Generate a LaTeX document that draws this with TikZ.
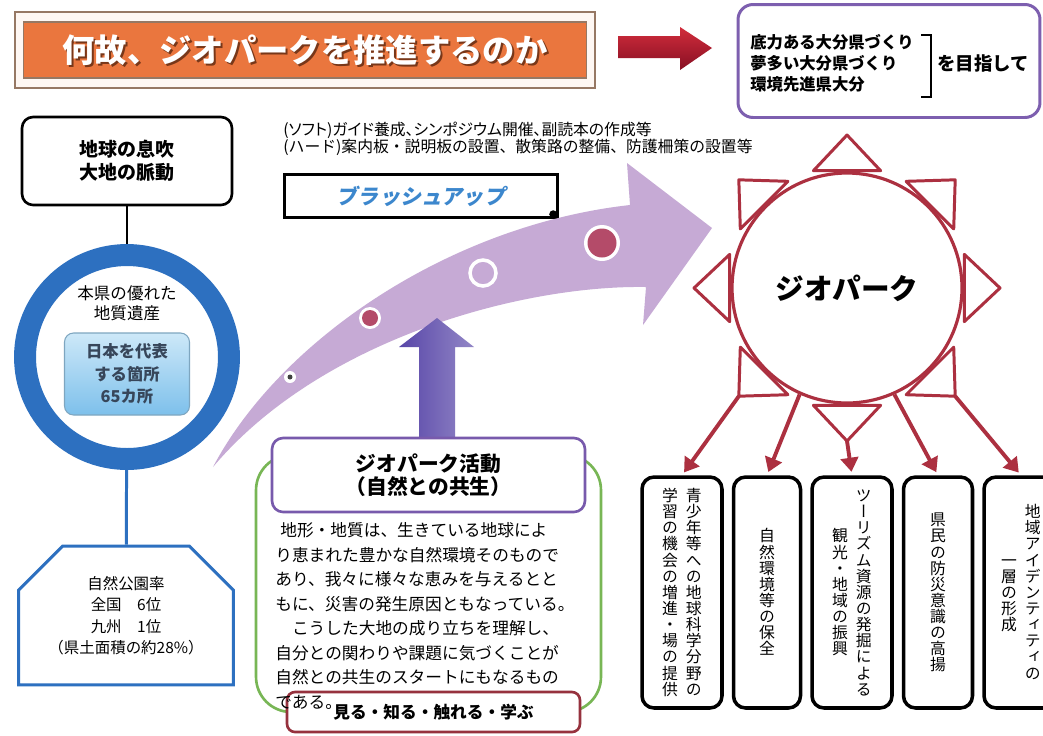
\documentclass[tikz,border=0pt]{standalone}
\usepackage{fontspec}
\setmainfont{Noto Sans CJK JP}
\newfontfamily\tatefont[RawFeature=+vert]{Noto Sans CJK JP}
\newfontfamily\brushfont[FakeSlant=0.2]{Noto Sans CJK JP}
\usetikzlibrary{positioning,calc,arrows.meta,shapes.misc}

\definecolor{titleorange}{RGB}{234,118,62}
\definecolor{titleline}{RGB}{150,120,100}
\definecolor{titleshade}{RGB}{120,55,25}
\definecolor{goalred}{RGB}{210,45,60}
\definecolor{goaldark}{RGB}{135,15,35}
\definecolor{goalpurple}{RGB}{125,95,175}
\definecolor{ringblue}{RGB}{45,112,192}
\definecolor{siteblue}{RGB}{205,232,248}
\definecolor{sitedeep}{RGB}{125,192,235}
\definecolor{sitetext}{RGB}{55,70,90}
\definecolor{brushblue}{RGB}{60,135,205}
\definecolor{lavender}{RGB}{198,170,213}
\definecolor{dotred}{RGB}{180,75,105}
\definecolor{uppurple}{RGB}{88,70,168}
\definecolor{actpurple}{RGB}{120,90,172}
\definecolor{lifegreen}{RGB}{120,182,85}
\definecolor{learnred}{RGB}{150,50,62}
\definecolor{geored}{RGB}{172,48,64}

\makeatletter
\newcommand\tatecol[1]{\vbox{\offinterlineskip\@tfor\tate@c:=#1\do{\setbox0\hbox to1em{\hss\tate@c\hss}\ht0=.88em\dp0=.12em\box0\kern.02em}}}
\newcommand\tatepair[2]{\hbox{$\vcenter{\tatecol{#2}}$\hskip.5em$\vcenter{\tatecol{#1}}$}}
\makeatother

\begin{document}
\begin{tikzpicture}[x=0.02cm, y=-0.02cm,
  titlebox/.style={rectangle, fill=titleorange, draw=titleline, line width=0.6pt, minimum width=11.28cm, minimum height=1.12cm},
  titleletters/.style={font=\bfseries\fontsize{18.4}{20}\selectfont, inner sep=0pt},
  goalbox/.style={rectangle, rounded corners=0.3cm, draw=goalpurple, line width=1.7pt, fill=white, minimum width=6.04cm, minimum height=2.26cm},
  goaltext/.style={font=\bfseries\fontsize{9.3}{12}\selectfont, align=left, inner sep=0pt},
  notetext/.style={font=\fontsize{9}{9.4}\selectfont, align=left, inner sep=0pt},
  brushbox/.style={rectangle, draw=black, line width=2pt, fill=white, minimum width=5.46cm, minimum height=0.86cm, text=brushblue, font=\brushfont\bfseries\fontsize{12}{14}\selectfont},
  breathbox/.style={rectangle, rounded corners=0.22cm, draw=black, line width=1.5pt, fill=white, minimum width=4.2cm, minimum height=1.76cm, align=center, font=\bfseries\fontsize{10.8}{13}\selectfont},
  ringnode/.style={circle, draw=ringblue, line width=12.5pt, minimum size=4.08cm, inner sep=0pt},
  heritagetext/.style={align=center, font=\fontsize{9.4}{11.5}\selectfont},
  sitebox/.style={rectangle, rounded corners=0.18cm, draw=sitedeep!60!gray, line width=0.6pt, top color=siteblue, bottom color=sitedeep, minimum width=2.5cm, minimum height=1.64cm, align=center, text=sitetext, font=\bfseries\fontsize{9.3}{12.8}\selectfont},
  parkbox/.style={chamfered rectangle, chamfered rectangle corners={north west,north east}, chamfered rectangle xsep=0.4cm, chamfered rectangle ysep=0.48cm, draw=ringblue, line width=1.7pt, fill=white, minimum width=4.3cm, minimum height=2.7cm, align=center, font=\fontsize{8.8}{12.2}\selectfont},
  lifebox/.style={rectangle, rounded corners=0.7cm, draw=lifegreen, line width=1.5pt, minimum width=6.9cm, minimum height=5.14cm},
  actbox/.style={rectangle, rounded corners=0.22cm, draw=actpurple, line width=1.5pt, fill=white, minimum width=6.26cm, minimum height=1.48cm, align=center, font=\bfseries\fontsize{11.8}{13}\selectfont},
  learnbox/.style={rectangle, rounded corners=0.16cm, draw=learnred, line width=1.5pt, fill=white, minimum width=5.86cm, minimum height=0.8cm, font=\bfseries\fontsize{9.5}{11}\selectfont},
  storytext/.style={align=left, inner sep=0pt, font=\fontsize{9.5}{14}\selectfont},
  geonode/.style={circle, draw=geored, line width=1.8pt, minimum size=4.6cm, inner sep=0pt, font=\bfseries\fontsize{16.3}{18}\selectfont},
  geoline/.style={draw=geored, line width=1.7pt, line join=round},
  geoarrow/.style={draw=geored, line width=2.2pt, -{Triangle[length=8pt,width=10pt]}, shorten >=2pt},
  tatebox/.style={rectangle, rounded corners=0.24cm, draw=black, line width=2pt, fill=white, minimum height=4.62cm, inner sep=0pt, font=\tatefont\fontsize{9}{10}\selectfont},
  blackline/.style={draw=black, line width=1.4pt},
  blueline/.style={draw=ringblue, line width=1.7pt}]

\fill[white] (0,0) rectangle (1043,735);
\useasboundingbox (0,0) rectangle (1043,735);

\draw[titleline, fill=white!94!titleorange, line width=0.8pt] (15,12) rectangle (595,88);
\node[titlebox] (titlebar) at (305,50) {};
\node[titleletters, text=titleshade] (titleshadow) at (307,52) {何故、ジオパークを推進するのか};
\node[titleletters, text=white] (title) at (305,50) {何故、ジオパークを推進するのか};

\shade[top color=goalred, bottom color=goaldark] (618,36) -- (680,36) -- (680,27) -- (712,48) -- (680,70) -- (680,58) -- (618,58) -- cycle;

\node[goalbox] (goal) at (889,61) {};
\node[goaltext, anchor=west] (aims) at (750,63) {底力ある大分県づくり\\夢多い大分県づくり\\環境先進県大分};
\draw[black, line width=1.6pt] (921,35) -| (931,97) -- (921,97);
\node[goaltext, anchor=west, font=\bfseries\fontsize{10.5}{12}\selectfont] (aim) at (937,63) {を目指して};

\node[notetext, anchor=west] (notes) at (283,139) {{\addfontfeature{RawFeature=+palt}(ソフト)ガイド養成、シンポジウム開催、副読本の作成等}\\(ハード)案内板・説明板の設置、散策路の整備、防護柵策の設置等};

\node[brushbox] (brush) at (421,196) {ブラッシュアップ};
\fill (brush.south east) ++(-6,-5) circle (4);

\fill[lavender] (213,467) .. controls (280,340) and (450,225) .. (630,205) -- (627,163) -- (712,228) -- (643,325) -- (646,287) .. controls (520,285) and (320,340) .. (213,467) -- cycle;
\fill[white] (290,377) circle (6);
\fill[black!75] (290,377) circle (2.5);
\fill[white] (370,318) circle (11);
\fill[dotred] (370,318) circle (8);
\draw[white, line width=2pt, fill=lavender] (483,273) circle (13);
\fill[white] (602,243) circle (18);
\fill[dotred] (602,243) circle (14.5);

\shade[left color=uppurple, right color=uppurple!65!white] (419,440) -- (419,347) -- (399,347) -- (437,318) -- (474,347) -- (455,347) -- (455,440) -- cycle;

\node[lifebox] (life) at (428.5,583.5) {};
\node[learnbox] (learn) at (433.5,712) {見る・知る・触れる・学ぶ};
\node[storytext, anchor=north west] (story) at (275,522) {\hspace*{0.3em}地形・地質は、生きている地球によ\\
り恵まれた豊かな自然環境そのもので\\
あり、我々に様々な恵みを与えるとと\\
もに、災害の発生原因ともなっている。\\
　こうした大地の成り立ちを理解し、\\
自分との関わりや課題に気づくことが\\
自然との共生のスタートにもなるもの\\
である。};
\node[actbox] (act) at (428.5,475) {ジオパーク活動\\（自然との共生）};

\node[breathbox] (breath) at (127,161) {地球の息吹\\大地の脈動};
\node[ringnode] (ring) at (127,357) {};
\node[heritagetext] (heritage) at (127,303) {本県の優れた\\地質遺産};
\node[sitebox] (sites) at (127,374) {日本を代表\\する箇所\\65カ所};
\node[parkbox] (park) at (126,615.5) {自然公園率\\全国　6位\\九州　1位\\（県土面積の約28\%）};

\path (breath) edge[blackline] (ring);
\path (ring) edge[blueline] (park);

\node[geonode] (geo) at (847,288) {ジオパーク};
\foreach \a in {0,45,...,315} {
  \coordinate (tip\a) at ($(geo)+(\a:153)$);
  \draw[geoline] ($(geo)+(\a-16:122)$) -- (tip\a) -- ($(geo)+(\a+16:122)$) -- cycle;
}

\node[tatebox, minimum width=1.6cm] (v1) at (682,592.5) {\tatepair{青少年等への地球科学分野の}{学習の機会の増進・場の提供}};
\node[tatebox, minimum width=1.34cm, right=0.16cm of v1] (v2) {\tatecol{自然環境等の保全}};
\node[tatebox, minimum width=1.6cm, right=0.16cm of v2] (v3) {\tatepair{ツーリズム資源の発掘による}{観光・地域の振興}};
\node[tatebox, minimum width=1.38cm, right=0.16cm of v3] (v4) {\tatecol{県民の防災意識の高揚}};
\node[tatebox, minimum width=1.48cm, right=0.16cm of v4] (v5) {\tatepair{地域アイデンティティの}{一層の形成}};

\path (tip135) edge[geoarrow] (v1.north);
\path (geo.-114) edge[geoarrow] (v2.north);
\path (tip90) edge[geoarrow] (v3.north);
\path (geo.-66) edge[geoarrow] (v4.north);
\path (tip45) edge[geoarrow] (v5.north);

\end{tikzpicture}
\end{document}
